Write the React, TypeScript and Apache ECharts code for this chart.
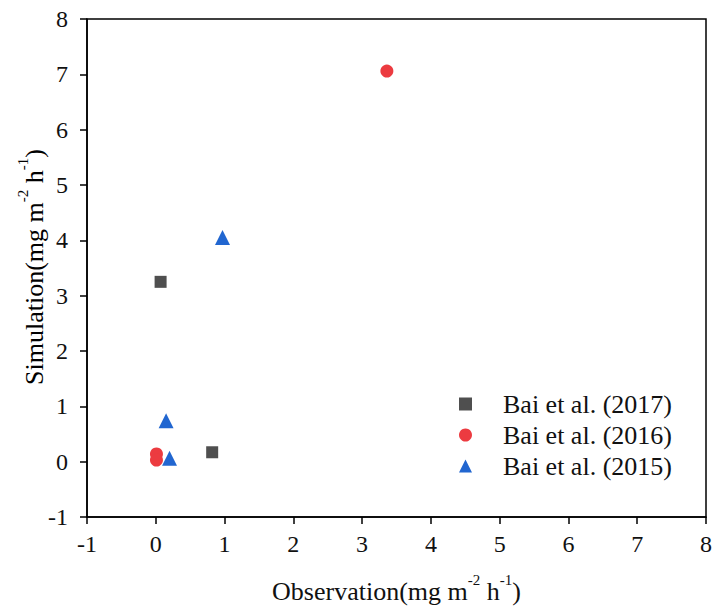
import React, { useEffect, useRef } from "react";
import * as echarts from "echarts";

const xTicks = [-1, 0, 1, 2, 3, 4, 5, 6, 7, 8];
const yTicks = [-1, 0, 1, 2, 3, 4, 5, 6, 7, 8];

const bai2017: [number, number][] = [
  [0.07, 3.25],
  [0.82, 0.17],
];
const bai2016: [number, number][] = [
  [3.36, 7.06],
  [0.01, 0.14],
  [0.01, 0.03],
];
const bai2015: [number, number][] = [
  [0.97, 4.05],
  [0.15, 0.74],
  [0.2, 0.06],
];

const seriesNames = ["Bai et al. (2017)", "Bai et al. (2016)", "Bai et al. (2015)"];
const colors = ["#4f4f4f", "#ec3b40", "#2166d0"];

const FONT = "serif";
const TXT = "#111";

export default function App() {
  const ref = useRef<HTMLDivElement>(null);
  useEffect(() => {
    document.body.style.margin = "0";
    if (!ref.current) return;
    const chart = echarts.init(ref.current, null, { renderer: "svg" });
    const rich = {
      b: { fontSize: 26, fontFamily: FONT, color: TXT, lineHeight: 32, verticalAlign: "bottom" },
      s: { fontSize: 15, fontFamily: FONT, color: TXT, lineHeight: 32, verticalAlign: "top" },
    };
    chart.setOption({
      animation: false,
      grid: { left: 87, right: 10, top: 19, bottom: 98, show: true, borderColor: "#000", borderWidth: 1.5 },
      xAxis: {
        type: "value",
        min: -1,
        max: 8,
        interval: 1,
        splitLine: { show: false },
        axisLine: { show: true, onZero: false, lineStyle: { color: "#000", width: 1.5 } },
        axisTick: { show: true, length: 7, lineStyle: { color: "#000", width: 1.5 } },
        axisLabel: { fontSize: 24, fontFamily: FONT, color: TXT, margin: 15, formatter: (v: number) => (xTicks.includes(v) ? String(v) : "") },
        name: "{b|Observation(mg m}{s|-2}{b| h}{s|-1}{b|)}",
        nameLocation: "middle",
        nameGap: 55,
        nameTextStyle: { fontFamily: FONT, fontSize: 26, rich },
      },
      yAxis: {
        type: "value",
        min: -1,
        max: 8,
        interval: 1,
        splitLine: { show: false },
        axisLine: { show: true, onZero: false, lineStyle: { color: "#000", width: 1.5 } },
        axisTick: { show: true, length: 7, lineStyle: { color: "#000", width: 1.5 } },
        axisLabel: { fontSize: 24, fontFamily: FONT, color: TXT, margin: 19, formatter: (v: number) => (yTicks.includes(v) ? String(v) : "") },
      },
      graphic: [
        {
          type: "text",
          x: 31,
          y: 267,
          rotation: Math.PI / 2,
          style: {
            text: "{b|Simulation(mg m}{s|-2}{b| h}{s|-1}{b|)}",
            rich,
            fontFamily: FONT,
            fontSize: 26,
            align: "center",
            verticalAlign: "middle",
          },
        },
      ],
      legend: {
        orient: "vertical",
        left: 459,
        top: 391,
        padding: 0,
        itemWidth: 13,
        itemHeight: 13,
        itemGap: 5,
        textStyle: { fontSize: 26, fontFamily: FONT, color: TXT, padding: [0, 0, 0, 26] },
        data: [
          { name: seriesNames[0], icon: "rect" },
          { name: seriesNames[1], icon: "circle" },
          { name: seriesNames[2], icon: "triangle" },
        ],
      },
      series: [
        {
          name: seriesNames[0],
          type: "scatter",
          symbol: "rect",
          symbolSize: 12,
          itemStyle: { color: colors[0], opacity: 1 },
          data: bai2017,
        },
        {
          name: seriesNames[1],
          type: "scatter",
          symbol: "circle",
          symbolSize: 13,
          itemStyle: { color: colors[1], opacity: 1 },
          data: bai2016,
        },
        {
          name: seriesNames[2],
          type: "scatter",
          symbol: "triangle",
          symbolSize: 15,
          itemStyle: { color: colors[2], opacity: 1 },
          data: bai2015,
        },
      ],
    });
    return () => chart.dispose();
  }, []);
  return <div ref={ref} style={{ width: 716, height: 615 }} />;
}
